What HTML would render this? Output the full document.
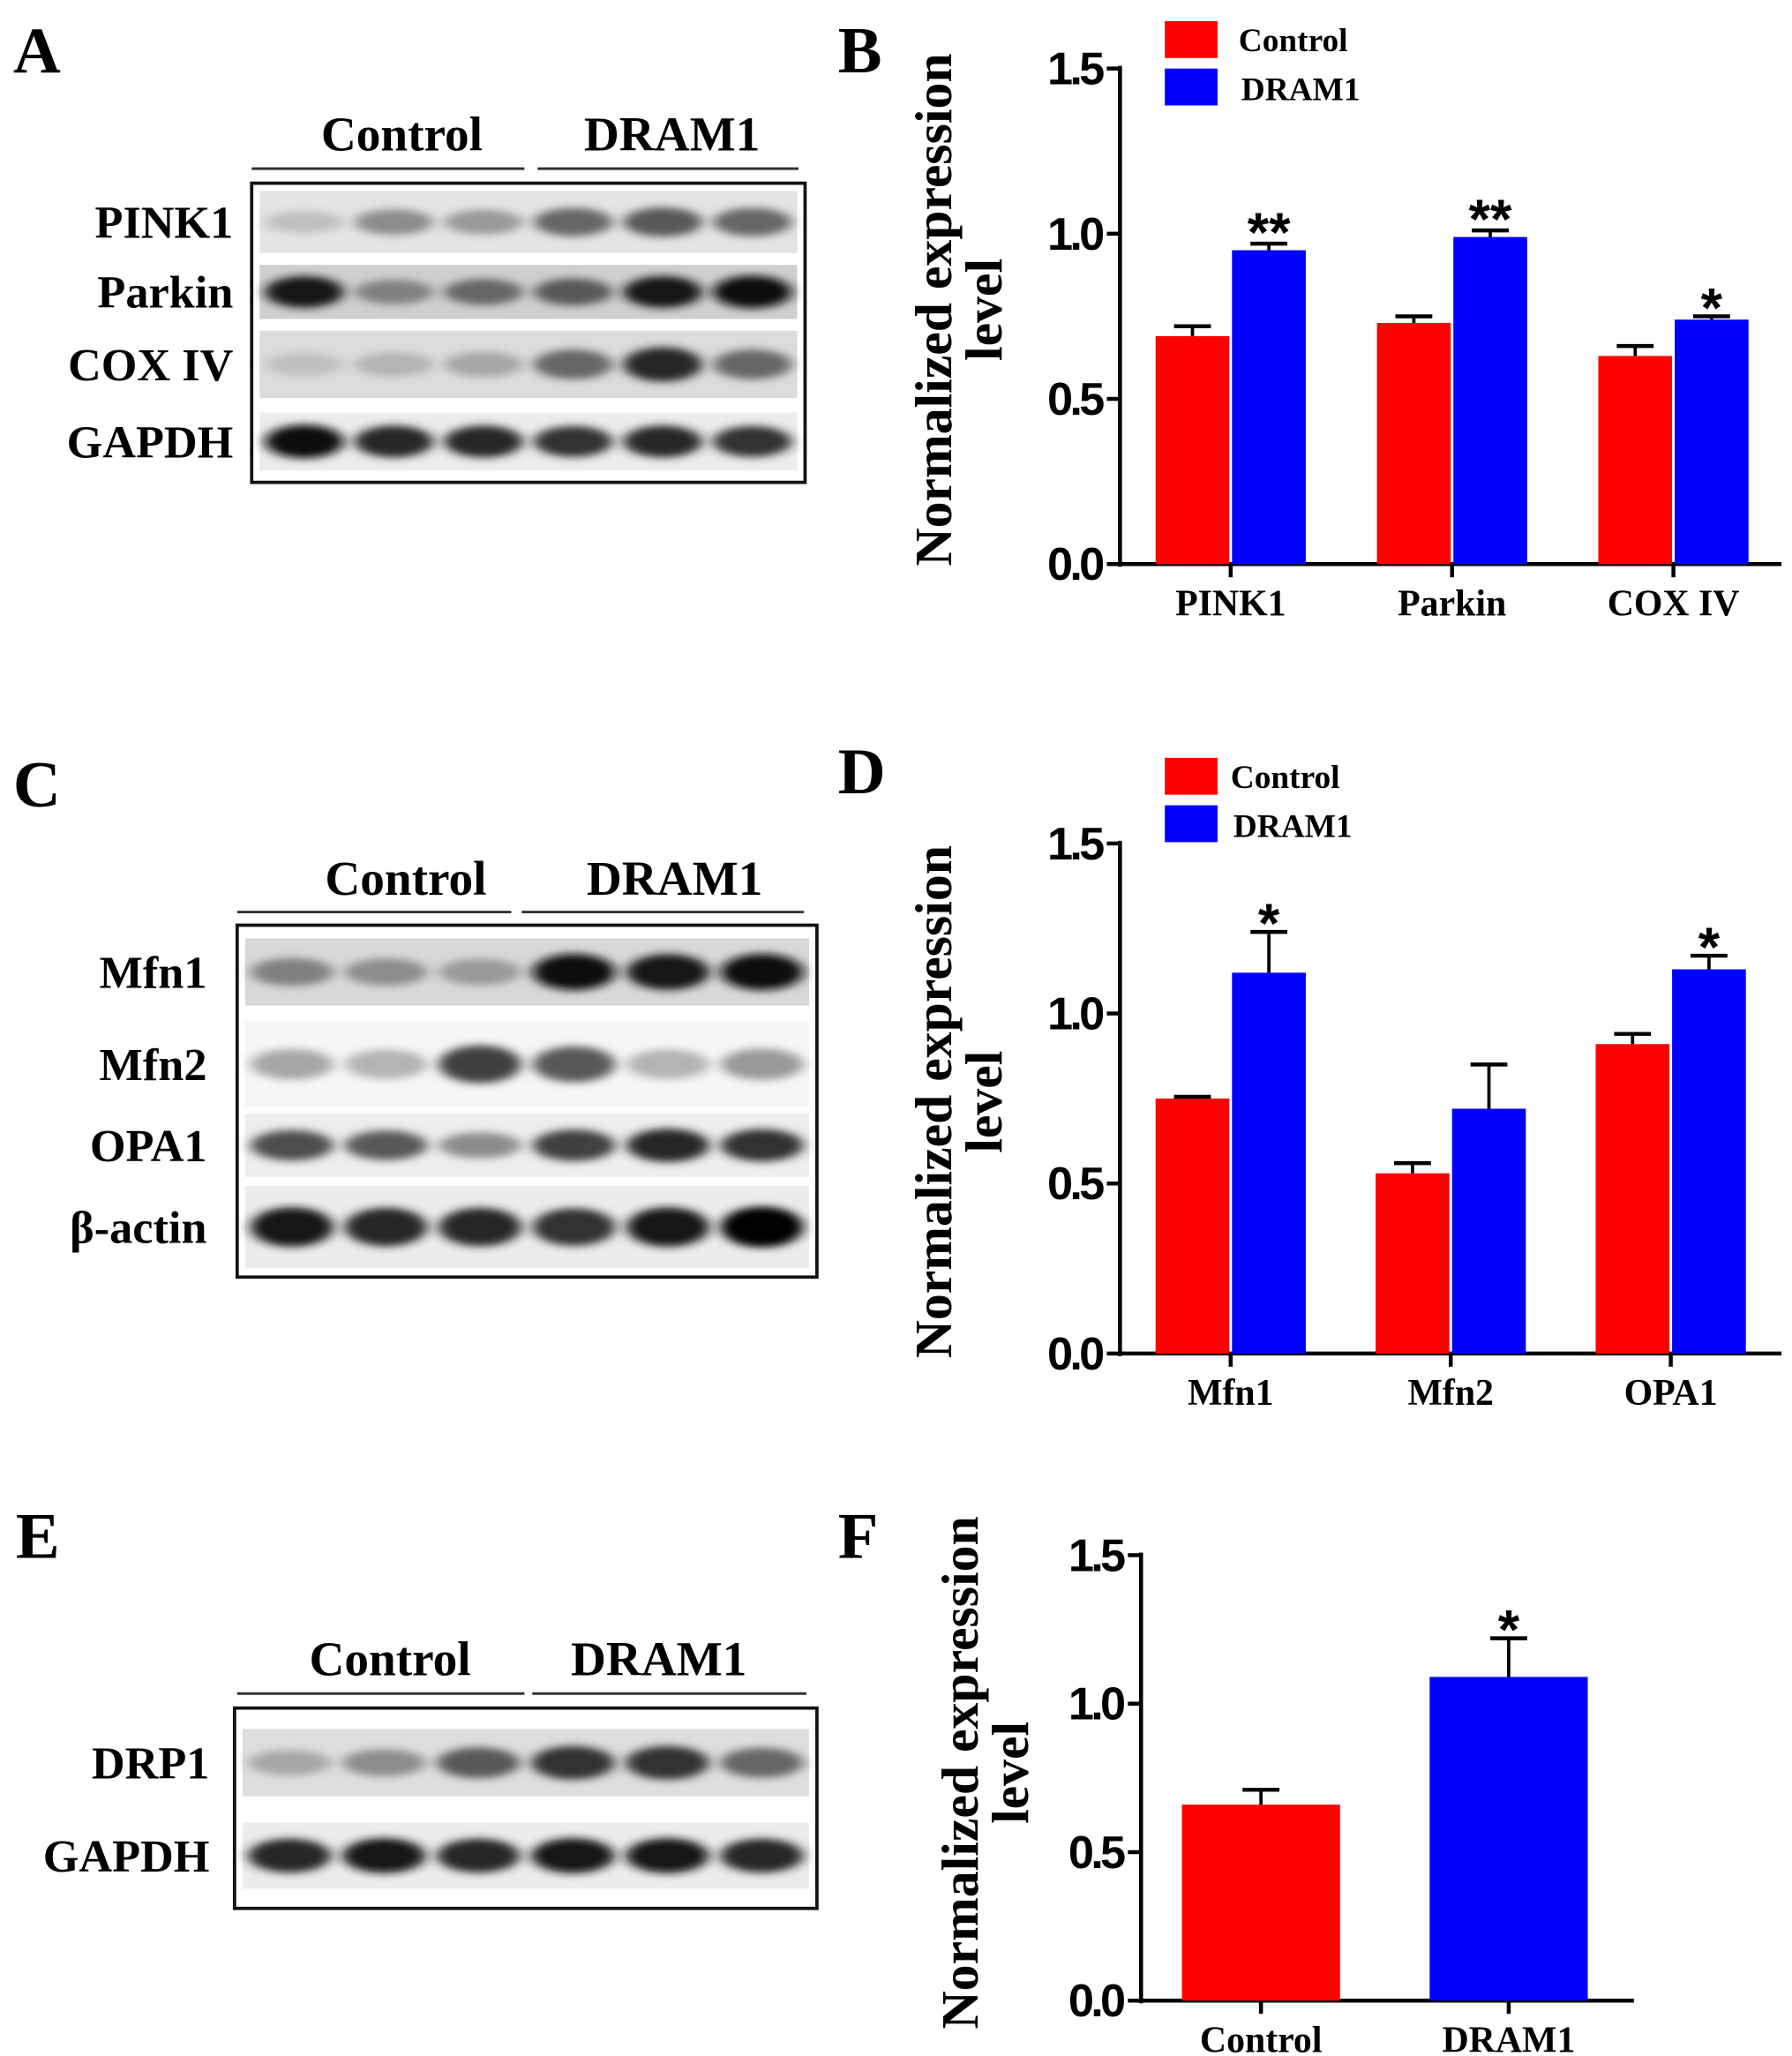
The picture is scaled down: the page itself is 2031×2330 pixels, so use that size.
<!DOCTYPE html>
<html><head><meta charset="utf-8"><style>
html,body{margin:0;padding:0;background:#fff;}
svg{display:block;}
.lt{font-family:"Liberation Serif",serif;font-weight:bold;fill:#000;}
.tk{font-family:"Liberation Sans",sans-serif;font-weight:bold;fill:#000;}
</style></head><body>
<svg id="fig" width="2031" height="2330" viewBox="0 0 1360 1560" preserveAspectRatio="none" xmlns="http://www.w3.org/2000/svg">
<defs>
<filter id="blur" x="-50%" y="-100%" width="200%" height="300%"><feGaussianBlur stdDeviation="5 3"/></filter>
</defs>
<g id="blots"></g>
<g id="charts"></g>
</svg>
<script>
// ---- Chart B data ----
const catsB = ["PINK1","Parkin","COX IV"];
const ctrlB = [0.69,0.73,0.63];
const ctrlErrB = [0.03,0.02,0.03];
const dramB = [0.95,0.99,0.74];
const dramErrB = [0.02,0.02,0.01];
const sigB = ["**","**","*"];
// ---- Chart D data ----
const catsD = ["Mfn1","Mfn2","OPA1"];
const ctrlD = [0.75,0.53,0.91];
const ctrlErrD = [0.005,0.03,0.03];
const dramD = [1.12,0.72,1.13];
const dramErrD = [0.12,0.13,0.04];
const sigD = ["*","","*"];
// ---- Chart F data ----
const catsF = ["Control","DRAM1"];
const valsF = [0.66,1.09];
const errF = [0.05,0.13];
const sigF = ["","*"];
const yTicks = [0.0,0.5,1.0,1.5];
const yTickLabels = ["0.0","0.5","1.0","1.5"];

const NS="http://www.w3.org/2000/svg";
function mk(tag,attrs,parent,text){const e=document.createElementNS(NS,tag);for(const k in attrs)e.setAttribute(k,attrs[k]);if(text!==undefined)e.textContent=text;parent.appendChild(e);return e;}
const charts=document.getElementById('charts');
const blots=document.getElementById('blots');

[["A",10,55],["B",636,55],["C",10,612],["D",636,602],["E",12,1182],["F",636,1182]].forEach(p=>{
  const t=mk('text',{x:p[1],y:p[2],class:'lt','font-size':50},charts,p[0]);
  
  
});

function grouped(id,cfg){
  const g=mk('g',{},charts);
  
  
  const y=v=>cfg.y0-(v/1.5)*(cfg.y0-cfg.y15);
  const ya=mk('line',{x1:cfg.ax,y1:cfg.y15-2,x2:cfg.ax,y2:cfg.y0+2,stroke:'#000','stroke-width':3},g);
  
  const xa=mk('line',{x1:cfg.ax,y1:cfg.y0,x2:cfg.axEnd,y2:cfg.y0,stroke:'#000','stroke-width':3},g);
  
  yTicks.forEach((v,i)=>{
    mk('line',{x1:cfg.ax-10,y1:y(v),x2:cfg.ax,y2:y(v),stroke:'#000','stroke-width':3},g);
    const t=mk('text',{x:cfg.ax-14,y:y(v)+12,class:'tk','font-size':35,'text-anchor':'end','letter-spacing':'-2.5'},g,yTickLabels[i]);
    
  });
  const tt=mk('text',{transform:`translate(${cfg.tx},${cfg.ty}) rotate(-90)`,class:'lt','font-size':40,'text-anchor':'middle'},g,'Normalized expression');
  
  const tt2=mk('text',{transform:`translate(${cfg.tx+38},${cfg.ty}) rotate(-90)`,class:'lt','font-size':40,'text-anchor':'middle'},g,'level');
  
  const n=cfg.series[0].vals.length;
  for(let i=0;i<n;i++){
    const cx=cfg.c0+i*cfg.step;
    mk('line',{x1:cx,y1:cfg.y0,x2:cx,y2:cfg.y0+10,stroke:'#000','stroke-width':3},g);
    const lab=mk('text',{x:cx,y:cfg.y0+39,class:'lt','font-size':28,'text-anchor':'middle'},g,cfg.cats[i]);
    
    cfg.series.forEach((s,si)=>{
      const x0=s.off(cx);
      const v=s.vals[i], e=s.err[i];
      const el=mk('line',{x1:x0+cfg.bw/2,y1:y(v),x2:x0+cfg.bw/2,y2:y(v+e),stroke:'#000','stroke-width':2.5},g);
      
      mk('line',{x1:x0+cfg.bw/2-14,y1:y(v+e),x2:x0+cfg.bw/2+14,y2:y(v+e),stroke:'#000','stroke-width':3},g);
      const r=mk('rect',{x:x0,y:y(v),width:cfg.bw,height:cfg.y0-y(v),fill:s.colors?s.colors[i]:s.color},g);
      
      
      if(s.sig&&s.sig[i]){
        const st=mk('text',{x:x0+cfg.bw/2,y:y(v+e)+(s.sig[i]=="**"?6:8),class:'tk','font-size':42,'text-anchor':'middle'},g,s.sig[i]);
        
      }
    });
  }
  if(cfg.legend){
    const L=cfg.legend;
    const r1=mk('rect',{x:884,y:L.y,width:40,height:28,fill:'#ff0000'},g);
    
    const t1=mk('text',{x:L.tx,y:L.y+23,class:'lt','font-size':25},g,'Control');
    
    const r2=mk('rect',{x:884,y:L.y+36,width:40,height:28,fill:'#0000ff'},g);
    
    const t2=mk('text',{x:L.tx+2,y:L.y+60,class:'lt','font-size':25},g,'DRAM1');
    
  }
}
grouped('chart-b',{cats:catsB,ax:850,axEnd:1352,y0:428,y15:52,c0:934,step:168,bw:56,tx:722,ty:235,
  legend:{y:16,tx:940},
  series:[{name:'control',vals:ctrlB,err:ctrlErrB,color:'#ff0000',off:c=>c-57},
          {name:'dram1',vals:dramB,err:dramErrB,color:'#0000ff',off:c=>c+1,sig:sigB}]});
grouped('chart-d',{cats:catsD,ax:850,axEnd:1352,y0:1027,y15:640,c0:934,step:167,bw:56,tx:722,ty:836,
  legend:{y:575,tx:934},
  series:[{name:'control',vals:ctrlD,err:ctrlErrD,color:'#ff0000',off:c=>c-57},
          {name:'dram1',vals:dramD,err:dramErrD,color:'#0000ff',off:c=>c+1,sig:sigD}]});
grouped('chart-f',{cats:catsF,ax:866,axEnd:1240,y0:1518,y15:1180,c0:957,step:188,bw:120,tx:742,ty:1345,
  series:[{name:'value',vals:valsF,err:errF,colors:['#ff0000','#0000ff'],off:c=>c-60,sig:sigF}]});

// ---- Western blots ----
const blotA={box:[191,139,611,366],lines:[[191,398,128],[408,606,128]],hy:114,hc:[305,510],lx:177,
  rows:[["PINK1",145,192,[0.25,0.45,0.4,0.6,0.65,0.6],'#e4e4e4'],["Parkin",201,242,[0.9,0.5,0.6,0.65,0.9,0.95],'#cfcfcf'],
        ["COX IV",251,302,[0.25,0.3,0.35,0.6,0.85,0.6],'#dcdcdc'],["GAPDH",313,357,[0.95,0.85,0.85,0.8,0.85,0.8],'#ececec']]};
const blotC={box:[180,702,620,969],lines:[[180,388,692],[396,610,692]],hy:679,hc:[308,512],lx:157,
  rows:[["Mfn1",712,763,[0.5,0.45,0.4,0.95,0.92,0.95],'#d8d8d8'],["Mfn2",775,840,[0.35,0.3,0.75,0.65,0.3,0.4],'#f6f6f6'],
        ["OPA1",845,893,[0.7,0.65,0.45,0.75,0.85,0.8],'#eeeeee'],["β-actin",900,962,[0.9,0.85,0.85,0.8,0.9,0.98],'#ececec']]};
const blotE={box:[178,1296,620,1448],lines:[[180,398,1285],[404,612,1285]],hy:1271,hc:[296,500],lx:159,
  rows:[["DRP1",1312,1363,[0.35,0.45,0.65,0.8,0.8,0.6],'#dedede'],["GAPDH",1383,1433,[0.85,0.9,0.85,0.9,0.9,0.85],'#ececec']]};
function drawBlot(id,b){
  const g=mk('g',{},blots);
  
  
  ["Control","DRAM1"].forEach((h,i)=>{
    const t=mk('text',{x:b.hc[i],y:b.hy,class:'lt','font-size':37,'text-anchor':'middle'},g,h);
    
  });
  b.lines.forEach(l=>mk('line',{x1:l[0],y1:l[2],x2:l[1],y2:l[2],stroke:'#333','stroke-width':2},g));
  const x0=b.box[0]+6,x1=b.box[2]-6,lw=(x1-x0)/6;
  b.rows.forEach(r=>{
    const lab=mk('text',{x:b.lx,y:(r[1]+r[2])/2+12,class:'lt','font-size':35,'text-anchor':'end'},g,r[0]);
    
    mk('rect',{x:x0,y:r[1],width:x1-x0,height:r[2]-r[1],fill:r[4]},g);
    const cy=(r[1]+r[2])/2;
    r[3].forEach((v,i)=>{
      const c=Math.round(255*(1-v));
      const e=mk('ellipse',{cx:x0+lw*(i+0.5),cy:cy,rx:lw*0.44,ry:(r[2]-r[1])*0.14+v*7,fill:`rgb(${c},${c},${c})`,filter:'url(#blur)'},g);
      
    });
  });
  const bx=mk('rect',{x:b.box[0],y:b.box[1],width:b.box[2]-b.box[0],height:b.box[3]-b.box[1],fill:'none',stroke:'#111','stroke-width':2.5},g);
  
}
drawBlot('blot-a',blotA);drawBlot('blot-c',blotC);drawBlot('blot-e',blotE);
</script>
</body></html>
